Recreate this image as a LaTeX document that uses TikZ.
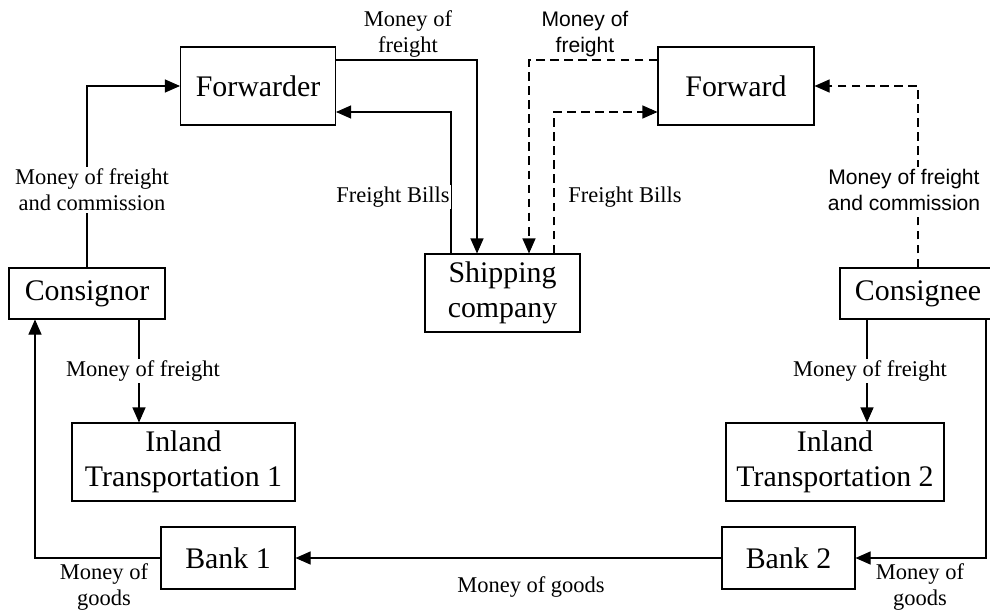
\documentclass[tikz,border=0pt]{standalone}
\usepackage{fontspec}
\setmainfont{Liberation Serif}
\newfontfamily\arialfont{Liberation Sans}
\usetikzlibrary{calc, arrows.meta}

\begin{document}
\begin{tikzpicture}[
        box/.style={draw, line width=0.6pt, align=center, inner sep=0pt, font=\fontsize{17}{20}\selectfont},
        lbl/.style={align=center, inner sep=1pt, font=\fontsize{12.8}{15}\selectfont},
        sanslbl/.style={lbl, font=\arialfont\fontsize{12}{15}\selectfont},
        link/.style={line width=0.6pt, -{Triangle[length=0.3cm,width=0.26cm]}},
        dlink/.style={link, dash pattern=on 5pt off 3pt}
    ]
            \useasboundingbox (0,0) rectangle (19.8,12.2);
            % boxes
            \node[box, minimum width=3.1cm, minimum height=1.56cm] (forwarder) at (5.16,10.48) {Forwarder};
            \node[box, minimum width=3.12cm, minimum height=1.56cm] (forward) at (14.72,10.48) {Forward};
            \node[box, minimum width=3.1cm, minimum height=1.56cm] (shipping) at (10.05,6.34) {Shipping\\company};
            \node[box, minimum width=3.12cm, minimum height=1.02cm] (consignor) at (1.74,6.33) {Consignor};
            \node[box, minimum width=3.12cm, minimum height=1.02cm] (consignee) at (18.36,6.33) {Consignee};
            \node[box, minimum width=4.46cm, minimum height=1.56cm] (inland1) at (3.67,2.96) {Inland\\Transportation 1};
            \node[box, minimum width=4.36cm, minimum height=1.56cm] (inland2) at (16.7,2.96) {Inland\\Transportation 2};
            \node[box, minimum width=2.68cm, minimum height=1.24cm] (bank1) at (4.56,1.04) {Bank 1};
            \node[box, minimum width=2.66cm, minimum height=1.24cm] (bank2) at (15.77,1.04) {Bank 2};
            % left side
            \draw[link] (consignor.north) |- (forwarder.west);
            \draw[link] ([yshift=0.52cm]forwarder.east) -| ([xshift=-0.51cm]shipping.north);
            \draw[link] ([xshift=-1.03cm]shipping.north) |- ([yshift=-0.52cm]forwarder.east);
            \coordinate (c1) at ([xshift=1.04cm]consignor.south);
            \draw[link] (c1) -- (c1 |- inland1.north);
            \draw[link] (bank1.west) -| ([xshift=-1.04cm]consignor.south);
            % right side
            \draw[dlink] ([yshift=0.52cm]forward.west) -| ([xshift=0.53cm]shipping.north);
            \draw[dlink] ([xshift=1.03cm]shipping.north) |- ([yshift=-0.52cm]forward.west);
            \draw[dlink] (consignee.north) |- (forward.east);
            \coordinate (c2) at ([xshift=-1.02cm]consignee.south);
            \draw[link] (c2) -- (c2 |- inland2.north);
            \draw[link] ([xshift=1.36cm]consignee.south) |- (bank2.east);
            \draw[link] (bank2.west) -- (bank1.east);
            % labels
            \node[lbl, fill=white] (l1) at (1.84,8.40) {Money of freight\\and commission};
            \node[lbl] (l2) at (8.16,11.52) {Money of\\freight};
            \node[lbl, fill=white] (l3) at (7.86,8.26) {Freight Bills};
            \node[sanslbl] (l4) at (11.7,11.52) {Money of\\freight};
            \node[lbl] (l5) at (12.5,8.26) {Freight Bills};
            \node[sanslbl, fill=white] (l6) at (18.08,8.40) {Money of freight\\and commission};
            \node[lbl, fill=white] (l7) at (2.86,4.78) {Money of freight};
            \node[lbl, fill=white] (l8) at (17.4,4.78) {Money of freight};
            \node[lbl] (l9) at (2.08,0.46) {Money of\\goods};
            \node[lbl] (l10) at (10.62,0.46) {Money of goods};
            \node[lbl] (l11) at (18.4,0.46) {Money of\\goods};
        \end{tikzpicture}
\end{document}
